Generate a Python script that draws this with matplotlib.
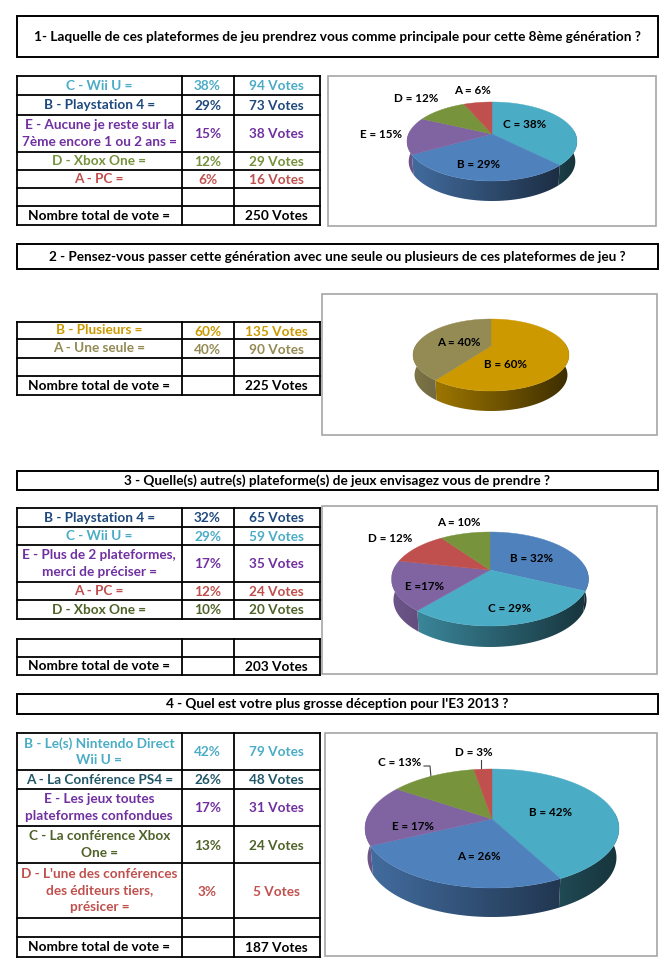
import numpy as np
import matplotlib
matplotlib.use('Agg')
import matplotlib.pyplot as plt
from matplotlib.colors import to_rgb
from matplotlib.patches import Polygon, Rectangle

plt.rcParams['font.family'] = ['Lato', 'DejaVu Sans']
plt.rcParams['font.weight'] = 'bold'

TEAL = '#4bacc6'
BLUE = '#4f81bd'
PURPLE = '#8064a2'
GREEN = '#77933c'
RED = '#c0504d'
GOLD = '#cc9900'
KHAKI = '#948a54'

T_TEAL = '#4bacc6'
T_BLUE = '#1f497d'
T_PURPLE = '#7030a0'
T_GREEN = '#76923c'
T_RED = '#c0504d'
T_DARKTEAL = '#215868'
T_OLIVE = '#4f6228'

# question 1
q1_title = "1- Laquelle de ces plateformes de jeu prendrez vous comme principale pour cette 8ème génération ?"
q1_names = ["C - Wii U =", "B - Playstation 4 =", "E - Aucune je reste sur la\n7ème encore 1 ou 2 ans =", "D - Xbox One =", "A - PC ="]
q1_pct = ["38%", "29%", "15%", "12%", "6%"]
q1_votes = [94, 73, 38, 29, 16]
q1_total = 250
q1_text_colors = [T_TEAL, T_BLUE, T_PURPLE, T_GREEN, T_RED]
q1_colors = [TEAL, BLUE, PURPLE, GREEN, RED]
q1_labels = ["C = 38%", "B = 29%", "E = 15%", "D = 12%", "A = 6%"]

# question 2
q2_title = "2 - Pensez-vous passer cette génération avec une seule ou plusieurs de ces plateformes de jeu ?"
q2_names = ["B - Plusieurs =", "A - Une seule ="]
q2_pct = ["60%", "40%"]
q2_votes = [135, 90]
q2_total = 225
q2_text_colors = [GOLD, KHAKI]
q2_colors = [GOLD, KHAKI]
q2_labels = ["B = 60%", "A = 40%"]

# question 3
q3_title = "3 - Quelle(s) autre(s) plateforme(s) de jeux envisagez vous de prendre ?"
q3_names = ["B - Playstation 4 =", "C - Wii U =", "E - Plus de 2 plateformes,\nmerci de préciser =", "A - PC =", "D - Xbox One ="]
q3_pct = ["32%", "29%", "17%", "12%", "10%"]
q3_votes = [65, 59, 35, 24, 20]
q3_total = 203
q3_text_colors = [T_BLUE, T_TEAL, T_PURPLE, T_RED, T_OLIVE]
q3_colors = [BLUE, TEAL, PURPLE, RED, GREEN]
q3_labels = ["B = 32%", "C = 29%", "E =17%", "D = 12%", "A = 10%"]

# question 4
q4_title = "4 - Quel est votre plus grosse déception pour l'E3 2013 ?"
q4_names = ["B - Le(s) Nintendo Direct\nWii U =", "A - La Conférence PS4 =", "E - Les jeux toutes\nplateformes confondues", "C - La conférence Xbox\nOne =", "D - L'une des conférences\ndes éditeurs tiers,\nprésicer ="]
q4_pct = ["42%", "26%", "17%", "13%", "3%"]
q4_votes = [79, 48, 31, 24, 5]
q4_total = 187
q4_text_colors = [T_TEAL, T_DARKTEAL, T_PURPLE, T_OLIVE, T_RED]
q4_colors = [TEAL, BLUE, PURPLE, GREEN, RED]
q4_labels = ["B = 42%", "A = 26%", "E = 17%", "C = 13%", "D = 3%"]

COLS = [17, 181.5, 233.5, 320]
TOTAL_LABEL = "Nombre total de vote ="


def title_box(ax, text, y0, y1):
    ax.add_patch(Rectangle((17, y0), 641, y1 - y0, fc='white', ec='black', lw=1.4))
    ax.text(337, (y0 + y1) / 2 - 0.5, text, ha='center', va='center', fontsize=9.8, color='black')


def grid(ax, edges):
    for y in edges:
        ax.plot([COLS[0], COLS[-1]], [y, y], color='black', lw=1.3, solid_capstyle='projecting')
    for x in COLS:
        ax.plot([x, x], [edges[0], edges[-1]], color='black', lw=1.3, solid_capstyle='projecting')


def row_text(ax, y0, y1, name, pct, votes, color):
    ym = (y0 + y1) / 2
    ax.text((COLS[0] + COLS[1]) / 2, ym - 1, name, ha='center', va='center', fontsize=9.8, color=color, linespacing=1.45)
    if pct:
        ax.text((COLS[1] + COLS[2]) / 2, ym, pct, ha='center', va='center', fontsize=9.8, color=color)
    ax.text((COLS[2] + COLS[3]) / 2, ym, votes, ha='center', va='center', fontsize=9.8, color=color)


def project(t, cx, cy, sx, sy, k, scale=1.0):
    u = np.sin(t)
    v = -np.cos(t)
    w = 1 - k * v
    return cx + scale * sx * u / w, cy + sy * v / w


def pie3d(ax, values, colors, cx, cy, rx, top, bottom, depth):
    k = (bottom - top) / (bottom + top)
    sy = top * (1 + k)
    sx = rx * np.sqrt(1 - k * k)
    fractions = np.array(values) / sum(values)
    bounds = np.concatenate([[0], np.cumsum(fractions)]) * 2 * np.pi
    shade = np.linspace(0.85, 0.3, 256)[:, None]
    # sides first, gradient left to right clipped to the wedge rim
    for i, color in enumerate(colors):
        t0 = max(bounds[i], np.pi / 2 - 0.1)
        t1 = min(bounds[i + 1], 3 * np.pi / 2 + 0.1)
        if t1 <= t0:
            continue
        ts = np.linspace(t0, t1, 120)
        xa, ya = project(ts, cx, cy, sx, sy, k)
        xb, yb = project(ts[::-1], cx, cy + depth, sx, sy, k, 0.98)
        rim = Polygon(np.c_[np.r_[xa, xb], np.r_[ya, yb]], closed=True, transform=ax.transData)
        pixels = (shade * np.array(to_rgb(color)))[None, :, :]
        im = ax.imshow(pixels, extent=(cx - rx, cx + rx, cy + bottom + depth, cy - top),
                       aspect='auto', interpolation='bilinear', zorder=2)
        im.set_clip_path(rim)
    # top face
    for i, color in enumerate(colors):
        ts = np.linspace(bounds[i], bounds[i + 1], max(8, int(fractions[i] * 300)))
        x, y = project(ts, cx, cy, sx, sy, k)
        ax.fill(np.r_[cx, x], np.r_[cy, y], color=color, lw=0.3, zorder=2.5)


def pie_labels(ax, labels, positions):
    for label, (x, y) in zip(labels, positions):
        ax.text(x, y, label, ha='center', va='center', fontsize=8.4, color='black', zorder=4)


def chart_box(ax, x0, y0, x1, y1):
    ax.add_patch(Rectangle((x0, y0), x1 - x0, y1 - y0, fc='white', ec='#a6a6a6', lw=1.2, zorder=0.5))


fig = plt.figure(figsize=(6.69, 9.78), dpi=100)
ax = fig.add_axes([0, 0, 1, 1])
ax.set_xlim(0, 669)
ax.set_ylim(978, 0)
ax.set_autoscale_on(False)
ax.axis('off')

# Q1
title_box(ax, q1_title, 17, 58)
edges = [77, 96, 116, 153, 171, 189, 207, 226]
grid(ax, edges)
for i in range(5):
    row_text(ax, edges[i], edges[i + 1], q1_names[i], q1_pct[i], f"{q1_votes[i]} Votes", q1_text_colors[i])
row_text(ax, edges[6], edges[7], TOTAL_LABEL, "", f"{q1_total} Votes", 'black')
chart_box(ax, 328, 77, 656, 227)
pie3d(ax, q1_votes, q1_colors, 492, 135, 85, 32, 47, 20)
pie_labels(ax, q1_labels, [(525, 125), (479, 165), (381, 135), (416.5, 98), (473, 90)])

# Q2
title_box(ax, q2_title, 245, 270)
edges = [323, 340, 359, 377, 396]
grid(ax, edges)
for i in range(2):
    row_text(ax, edges[i], edges[i + 1], q2_names[i], q2_pct[i], f"{q2_votes[i]} Votes", q2_text_colors[i])
row_text(ax, edges[3], edges[4], TOTAL_LABEL, "", f"{q2_total} Votes", 'black')
chart_box(ax, 322, 295, 657, 436)
pie3d(ax, q2_votes, q2_colors, 491, 347, 78, 27, 45, 20)
pie_labels(ax, q2_labels, [(506, 364), (459, 342)])

# Q3
title_box(ax, q3_title, 472, 491)
edges = [509, 528, 546, 583, 601, 620]
grid(ax, edges)
for i in range(5):
    row_text(ax, edges[i], edges[i + 1], q3_names[i], q3_pct[i], f"{q3_votes[i]} Votes", q3_text_colors[i])
edges = [640, 658, 676]
grid(ax, edges)
row_text(ax, edges[1], edges[2], TOTAL_LABEL, "", f"{q3_total} Votes", 'black')
chart_box(ax, 322, 507, 657, 675)
pie3d(ax, q3_votes, q3_colors, 490, 571, 98.5, 38, 56, 21)
pie_labels(ax, q3_labels, [(532, 558), (510, 608), (425, 586), (390, 539), (459, 522)])

# Q4
title_box(ax, q4_title, 695, 715)
edges = [734, 771, 790, 827, 864, 919, 938, 958]
grid(ax, edges)
for i in range(5):
    row_text(ax, edges[i], edges[i + 1], q4_names[i], q4_pct[i], f"{q4_votes[i]} Votes", q4_text_colors[i])
row_text(ax, edges[6], edges[7], TOTAL_LABEL, "", f"{q4_total} Votes", 'black')
chart_box(ax, 325, 734, 657, 957)
pie3d(ax, q4_votes, q4_colors, 492, 820, 127, 50, 69, 29)
ax.plot([424, 430, 431], [767, 767, 778], color='#404040', lw=0.8)
ax.plot([481, 481], [761, 770], color='#404040', lw=0.8)
pie_labels(ax, q4_labels, [(551, 812), (479, 857), (413, 826), (400, 763), (474, 753)])

fig.savefig('out.png', dpi=100)
